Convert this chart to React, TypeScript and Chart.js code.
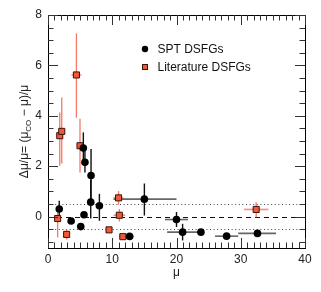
import React, { useEffect, useRef } from "react";
import { Chart, registerables } from "chart.js";
Chart.register(...registerables);

// ---- data ----
const sptMu = [1.75, 3.6, 5.1, 5.6, 5.5, 5.75, 6.7, 6.65, 8.0, 12.7, 15.0, 20.0, 20.95, 23.8, 27.8, 32.6];
const sptDelta = [0.3, -0.18, -0.4, 0.07, 2.72, 2.15, 1.63, 0.57, 0.43, -0.79, 0.69, -0.12, -0.62, -0.62, -0.78, -0.67];
const sptDeltaErrUp = [0.33, 0, 0, 0, 0.62, 0.45, 1.05, 0.9, 0.47, 0, 0.62, 0.3, 0.33, 0, 0, 0];
const sptDeltaErrDn = [0.33, 0, 0, 0, 0.6, 0.4, 1.05, 0.65, 0.6, 0, 0.65, 0.3, 0.33, 0, 0, 0];
const sptMuErrLo = [0, 0, 0, 0, 0, 0, 0, 0, 0, 0.65, 4.8, 1.8, 2.4, 0.3, 1.8, 3.0];
const sptMuErrHi = [0, 0, 0, 0, 0, 0, 0, 0, 0, 0.65, 5.0, 1.8, 2.6, 0.4, 1.8, 2.9];

const litMu = [1.5, 1.83, 2.14, 2.9, 4.42, 4.98, 9.5, 10.98, 11.1, 11.65, 32.4];
const litDelta = [-0.08, 3.21, 3.38, -0.71, 5.62, 2.81, -0.53, 0.74, 0.05, -0.8, 0.28];
const litDeltaErrUp = [0.38, 0.92, 1.34, 0.2, 1.65, 1.07, 0.1, 0.27, 0.25, 0, 0.29];
const litDeltaErrDn = [0.75, 1.19, 1.28, 0.2, 1.7, 1.06, 0.1, 0.27, 0.25, 0, 0.31];
const litMuErr = [0.3, 0, 0, 0, 0.78, 0, 0, 0.8, 0.9, 0.6, 1.9];

const seriesLabels = ["SPT DSFGs", "Literature DSFGs"];
const refLines = [0, 0.5, -0.5];
const xRange = [0, 40];
const yRange = [-1.25, 8];
const xMajor = 10, xMinor = 1;
const yMajor = 2, yMinor = 0.5;

const FONT = "'Liberation Sans', Arial, Helvetica, sans-serif";

const errorBars = {
  id: "errorBars",
  beforeDatasetsDraw(chart: any) {
    const { ctx, chartArea: a, scales } = chart;
    const x = scales.x, y = scales.y;
    ctx.save();
    ctx.beginPath();
    ctx.rect(a.left, a.top, a.right - a.left, a.bottom - a.top);
    ctx.clip();
    // reference lines
    refLines.forEach((v) => {
      const py = Math.round(y.getPixelForValue(v)) + 0.5;
      ctx.beginPath();
      if (v === 0) {
        ctx.setLineDash([5, 4]);
        ctx.strokeStyle = "#111";
      } else {
        ctx.setLineDash([1, 2.6]);
        ctx.strokeStyle = "#444";
      }
      ctx.lineWidth = 1;
      ctx.moveTo(a.left, py);
      ctx.lineTo(a.right, py);
      ctx.stroke();
    });
    ctx.setLineDash([]);
    // error bars, draw literature first then SPT
    const order = [1, 0];
    order.forEach((di) => {
      const ds = chart.data.datasets[di];
      ds.data.forEach((p: any) => {
        const px = x.getPixelForValue(p.x);
        const py = y.getPixelForValue(p.y);
        if (p.xl || p.xh) {
          ctx.beginPath();
          ctx.strokeStyle = di === 0 ? "#666" : "#f4907e";
          ctx.lineWidth = 1.6;
          ctx.moveTo(x.getPixelForValue(p.x - p.xl), py);
          ctx.lineTo(x.getPixelForValue(p.x + p.xh), py);
          ctx.stroke();
        }
        if (p.yu || p.yd) {
          ctx.beginPath();
          ctx.strokeStyle = di === 0 ? "#111" : "#f27a66";
          ctx.lineWidth = di === 0 ? 1.4 : 1.3;
          ctx.moveTo(px, y.getPixelForValue(p.y + p.yu));
          ctx.lineTo(px, y.getPixelForValue(p.y - p.yd));
          ctx.stroke();
        }
      });
    });
    ctx.restore();
  },
  afterDraw(chart: any) {
    const { ctx, chartArea: a, scales } = chart;
    const x = scales.x, y = scales.y;
    ctx.save();
    // frame
    ctx.strokeStyle = "#000";
    ctx.lineWidth = 1;
    ctx.strokeRect(Math.round(a.left) + 0.5, Math.round(a.top) + 0.5, Math.round(a.right - a.left), Math.round(a.bottom - a.top));
    // ticks
    ctx.strokeStyle = "#333";
    ctx.beginPath();
    for (let v = xRange[0]; v <= xRange[1] + 1e-9; v += xMinor) {
      const isMaj = Math.abs(v / xMajor - Math.round(v / xMajor)) < 1e-6;
      const L = isMaj ? 10 : 5.5;
      const px = Math.round(x.getPixelForValue(v)) + 0.5;
      ctx.moveTo(px, a.bottom);
      ctx.lineTo(px, a.bottom - L);
      ctx.moveTo(px, a.top);
      ctx.lineTo(px, a.top + L);
    }
    for (let v = Math.ceil(yRange[0] / yMinor) * yMinor; v <= yRange[1] + 1e-9; v += yMinor) {
      const isMaj = Math.abs(v / yMajor - Math.round(v / yMajor)) < 1e-6;
      const L = isMaj ? 10 : 5.5;
      const py = Math.round(y.getPixelForValue(v)) + 0.5;
      ctx.moveTo(a.left, py);
      ctx.lineTo(a.left + L, py);
      ctx.moveTo(a.right, py);
      ctx.lineTo(a.right - L, py);
    }
    ctx.stroke();

    // axis titles
    ctx.fillStyle = "#222";
    ctx.font = `12px ${FONT}`;
    ctx.textAlign = "center";
    ctx.textBaseline = "middle";
    ctx.fillText("μ", (a.left + a.right) / 2, 273);

    // y title with subscript
    ctx.save();
    ctx.translate(25, (a.top + a.bottom) / 2);
    ctx.rotate(-Math.PI / 2);
    const p1 = "Δμ/μ= (μ";
    const sub = "CO";
    const p2 = " − μ)/μ";
    ctx.font = `12px ${FONT}`;
    const w1 = ctx.measureText(p1).width;
    const w3 = ctx.measureText(p2).width;
    ctx.font = `8px ${FONT}`;
    const w2 = ctx.measureText(sub).width;
    const total = w1 + w2 + w3;
    let cx = -total / 2;
    ctx.textAlign = "left";
    ctx.textBaseline = "middle";
    ctx.font = `12px ${FONT}`;
    ctx.fillText(p1, cx, 0);
    cx += w1;
    ctx.font = `8px ${FONT}`;
    ctx.fillText(sub, cx, 4);
    cx += w2;
    ctx.font = `12px ${FONT}`;
    ctx.fillText(p2, cx, 0);
    ctx.restore();

    // legend
    const lx = 145;
    const rows = [49, 67];
    ctx.textAlign = "left";
    ctx.textBaseline = "middle";
    ctx.font = `12px ${FONT}`;
    ctx.beginPath();
    ctx.fillStyle = "#000";
    ctx.arc(lx, rows[0], 3.2, 0, Math.PI * 2);
    ctx.fill();
    ctx.fillStyle = "#111";
    ctx.fillText(seriesLabels[0], 157.5, rows[0] + 0.5);
    ctx.fillStyle = "#f0583a";
    ctx.fillRect(lx - 3, rows[1] - 3, 6, 6);
    ctx.strokeStyle = "#3a1208";
    ctx.lineWidth = 1;
    ctx.strokeRect(lx - 3 + 0.5, rows[1] - 3 + 0.5, 5, 5);
    ctx.fillStyle = "#111";
    ctx.fillText(seriesLabels[1], 157.5, rows[1] + 0.5);
    ctx.restore();
  },
};

export default function App() {
  const ref = useRef<HTMLCanvasElement | null>(null);
  useEffect(() => {
    document.body.style.margin = "0";
    if (!ref.current) return;
    const spt = sptMu.map((m, i) => ({
      x: m, y: sptDelta[i], yu: sptDeltaErrUp[i], yd: sptDeltaErrDn[i], xl: sptMuErrLo[i], xh: sptMuErrHi[i],
    }));
    const lit = litMu.map((m, i) => ({
      x: m, y: litDelta[i], yu: litDeltaErrUp[i], yd: litDeltaErrDn[i], xl: litMuErr[i], xh: litMuErr[i],
    }));
    const chart = new Chart(ref.current, {
      type: "scatter",
      data: {
        datasets: [
          {
            label: seriesLabels[0],
            data: spt as any,
            pointStyle: "circle",
            pointRadius: 3.8,
            backgroundColor: "#000",
            borderColor: "#000",
            borderWidth: 0,
          },
          {
            label: seriesLabels[1],
            data: lit as any,
            pointStyle: "rect",
            pointRadius: 4.3,
            backgroundColor: "#f0583a",
            borderColor: "#3a1208",
            borderWidth: 1,
          },
        ],
      },
      options: {
        animation: false,
        responsive: false,
        events: [],
        layout: { padding: { top: 15, right: 16, left: 0, bottom: 0 } },
        plugins: { legend: { display: false }, tooltip: { enabled: false } },
        scales: {
          x: {
            type: "linear",
            min: xRange[0],
            max: xRange[1],
            grid: { display: false, drawTicks: false },
            border: { display: false },
            afterFit: (s: any) => { s.height = 44; },
            ticks: {
              stepSize: xMajor,
              padding: 4,
              color: "#222",
              font: { family: FONT, size: 12 },
              maxRotation: 0,
              callback: (v: any) => String(v),
            },
          },
          y: {
            type: "linear",
            min: yRange[0],
            max: yRange[1],
            grid: { display: false, drawTicks: false },
            border: { display: false },
            afterFit: (s: any) => { s.width = 48; },
            ticks: {
              stepSize: yMajor,
              padding: 6,
              color: "#222",
              font: { family: FONT, size: 12 },
              callback: (v: any) => (Math.abs(v % yMajor) < 1e-9 ? String(v) : ""),
            },
          },
        },
      },
      plugins: [errorBars],
    });
    return () => chart.destroy();
  }, []);
  return (
    <div style={{ width: 321, height: 292, background: "#fff" }}>
      <canvas ref={ref} width={321} height={292} />
    </div>
  );
}
